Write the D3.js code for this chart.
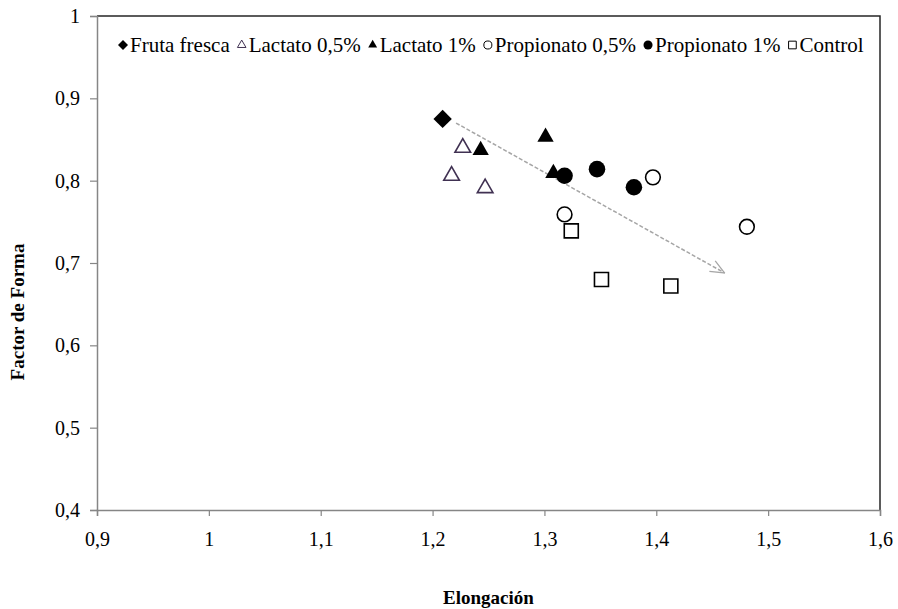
<!DOCTYPE html>
<html>
<head>
<meta charset="utf-8">
<script src="https://cdn.jsdelivr.net/npm/d3@7"></script>
<style>
  body { margin: 0; background: #fff; }
</style>
</head>
<body>
<div id="container"></div>
<script>
// data: [elongacion, factor de forma]
var frutaFresca = [[1.209, 0.875]];
var lactato05 = [[1.227, 0.840], [1.217, 0.806], [1.247, 0.791]];
var lactato1 = [[1.243, 0.837], [1.301, 0.853], [1.308, 0.809]];
var propionato05 = [[1.397, 0.804], [1.318, 0.759], [1.481, 0.744]];
var propionato1 = [[1.318, 0.806], [1.347, 0.814], [1.380, 0.792]];
var control = [[1.324, 0.739], [1.351, 0.680], [1.413, 0.672]];
var trendArrow = [[1.221, 0.870], [1.461, 0.688]];

var xTicks = [0.9, 1, 1.1, 1.2, 1.3, 1.4, 1.5, 1.6];
var yTicks = [0.4, 0.5, 0.6, 0.7, 0.8, 0.9, 1];

var series = [
  { name: "Fruta fresca", data: frutaFresca, shape: "diamond", fill: "#000", stroke: "none" },
  { name: "Lactato 0,5%", data: lactato05, shape: "triangle", fill: "#fff", stroke: "#403152" },
  { name: "Lactato 1%", data: lactato1, shape: "triangleFill", fill: "#000", stroke: "none" },
  { name: "Propionato 0,5%", data: propionato05, shape: "circle", fill: "#fff", stroke: "#000" },
  { name: "Propionato 1%", data: propionato1, shape: "circleFill", fill: "#000", stroke: "none" },
  { name: "Control", data: control, shape: "square", fill: "#fff", stroke: "#000" }
];

var width = 898;
var height = 609;
var pLeft = 97, pRight = 880, pTop = 16, pBottom = 510;
var serif = "'Liberation Serif', 'Times New Roman', serif";

var svg = d3
  .select("#container")
  .append("svg")
  .attr("width", width)
  .attr("height", height);

var x = d3.scaleLinear().domain([0.9, 1.6]).range([pLeft, pRight]);
var y = d3.scaleLinear().domain([0.4, 1]).range([pBottom, pTop]);

var fmt = d => String(+d.toFixed(1)).replace(".", ",");

// frame (top and right)
svg.append("path")
  .attr("d", "M" + pLeft + "," + pTop + "H" + pRight + "V" + pBottom)
  .attr("fill", "none")
  .attr("stroke", "#262626")
  .attr("stroke-width", 1.5);

var xAxis = svg.append("g")
  .attr("transform", "translate(0," + pBottom + ")")
  .call(d3.axisBottom(x).tickValues(xTicks).tickFormat(fmt).tickSize(6).tickPadding(16));

var yAxis = svg.append("g")
  .attr("transform", "translate(" + pLeft + ",0)")
  .call(d3.axisLeft(y).tickValues(yTicks).tickFormat(fmt).tickSize(7).tickPadding(10));

[xAxis, yAxis].forEach(function(a) {
  a.select(".domain").attr("stroke", "#868686").attr("stroke-width", 1.5);
  a.selectAll(".tick line").attr("stroke", "#868686").attr("stroke-width", 1.2);
  a.selectAll(".tick text")
    .style("font-family", serif)
    .style("font-size", "20px")
    .attr("fill", "#000");
});

svg.append("text")
  .attr("x", (pLeft + pRight) / 2)
  .attr("y", 604)
  .attr("text-anchor", "middle")
  .style("font-family", serif)
  .style("font-size", "19px")
  .style("font-weight", "bold")
  .text("Elongación");

svg.append("text")
  .attr("transform", "translate(24," + 312 + ") rotate(-90)")
  .attr("text-anchor", "middle")
  .style("font-family", serif)
  .style("font-size", "19px")
  .style("font-weight", "bold")
  .text("Factor de Forma");

// trend arrow
svg.append("defs")
  .append("marker")
  .attr("id", "arrow")
  .attr("viewBox", "0 0 16 14")
  .attr("refX", 15)
  .attr("refY", 7)
  .attr("markerWidth", 16)
  .attr("markerHeight", 14)
  .attr("markerUnits", "userSpaceOnUse")
  .attr("orient", "auto")
  .append("path")
  .attr("d", "M1,1 L15,7 L1,13")
  .attr("fill", "none")
  .attr("stroke", "#a6a6a6")
  .attr("stroke-width", 1.3);

svg.append("path")
  .attr("d", d3.line().x(d => x(d[0])).y(d => y(d[1]))(trendArrow))
  .attr("fill", "none")
  .attr("stroke", "#a6a6a6")
  .attr("stroke-width", 1.5)
  .attr("stroke-dasharray", "4,2")
  .attr("marker-end", "url(#arrow)");

var shapes = {
  diamond: d3.symbolDiamond2,
  triangle: d3.symbolTriangle2,
  triangleFill: d3.symbolTriangle2,
  circle: d3.symbolCircle,
  circleFill: d3.symbolCircle,
  square: d3.symbolSquare2
};
var sizes = { diamond: 215, triangle: 175, triangleFill: 190, circle: 170, circleFill: 215, square: 250 };

function symbolPath(s, scale) {
  return d3.symbol().type(shapes[s.shape]).size(sizes[s.shape] * scale)();
}

series.forEach(function(s) {
  svg.append("g")
    .selectAll("path")
    .data(s.data)
    .enter()
    .append("path")
    .attr("transform", d => "translate(" + x(d[0]) + "," + y(d[1]) + ")")
    .attr("d", symbolPath(s, 1))
    .attr("fill", s.fill)
    .attr("stroke", s.stroke)
    .attr("stroke-width", 1.6);
});

// legend
var legend = svg.append("g").attr("transform", "translate(0,45)");
var lx = 117;
series.forEach(function(s) {
  legend.append("path")
    .attr("transform", "translate(" + (lx + 6) + ",0)")
    .attr("d", symbolPath(s, 0.3))
    .attr("fill", s.fill)
    .attr("stroke", s.stroke)
    .attr("stroke-width", 1);
  var t = legend.append("text")
    .attr("x", lx + 13)
    .attr("y", 7)
    .style("font-family", serif)
    .style("font-size", "21px")
    .text(s.name);
  lx = lx + 13 + t.node().getComputedTextLength() + 6;
});
</script>
</body>
</html>
